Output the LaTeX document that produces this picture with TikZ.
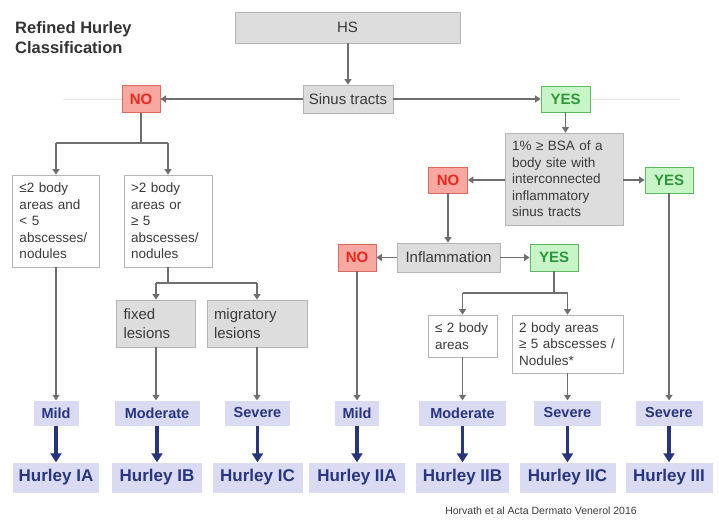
\documentclass[tikz,border=0pt]{standalone}
\usepackage{fontspec}
\setmainfont{Liberation Sans}
\usetikzlibrary{arrows.meta}
\definecolor{grayfill}{HTML}{DDDDDD}
\definecolor{boxedge}{HTML}{B4B4B4}
\definecolor{arrgray}{HTML}{6E6E6E}
\definecolor{txtgray}{HTML}{3A3A3A}
\definecolor{nofill}{HTML}{F7A9A1}
\definecolor{noedge}{HTML}{E0685E}
\definecolor{notext}{HTML}{E8281F}
\definecolor{yesfill}{HTML}{C8F5C8}
\definecolor{yesedge}{HTML}{5DB862}
\definecolor{yestext}{HTML}{2E9638}
\definecolor{lav}{HTML}{DADAF3}
\definecolor{navy}{HTML}{27357F}
\definecolor{faintline}{HTML}{E6E6E6}
\begin{document}
\begin{tikzpicture}[x=1pt,y=-1pt,
  gbox/.style={draw=boxedge, fill=grayfill, line width=0.8pt, inner sep=0pt, text=txtgray, font=\fontsize{15}{18.5}\selectfont},
  wbox/.style={draw=boxedge, fill=white, line width=0.8pt, inner xsep=7pt, inner ysep=0pt, align=left, text=txtgray, font=\fontsize{13.5}{16.5}\selectfont},
  nobox/.style={draw=noedge, fill=nofill, line width=0.8pt, inner sep=0pt, text=notext, font=\bfseries\fontsize{15}{18}\selectfont},
  yesbox/.style={draw=yesedge, fill=yesfill, line width=0.8pt, inner sep=0pt, text=yestext, font=\bfseries\fontsize{15}{18}\selectfont},
  sev/.style={fill=lav, inner sep=0pt, minimum height=25pt, text=navy, font=\bfseries\fontsize{14.5}{17}\selectfont},
  hur/.style={fill=lav, inner sep=0pt, minimum height=30pt, text=navy, font=\bfseries\fontsize{17}{20}\selectfont},
  ln/.style={draw=arrgray, line width=1.2pt},
  arr/.style={draw=arrgray, line width=1.2pt, -{Triangle[length=5.5pt,width=7pt]}},
  thickarr/.style={draw=navy, line width=3.5pt, -{Triangle[length=9pt,width=11pt]}}
]
\useasboundingbox (0,0) rectangle (719,519);
\fill[white] (0,0) rectangle (719,519);

% faint background line
\coordinate (fl) at (63,99);
\coordinate (fr) at (680,99);
\draw[faintline, line width=1pt] (fl) -- (fr);

% title
\node[anchor=north west, inner sep=0pt, align=left, text=black!80, font=\bfseries\fontsize{16.5}{20}\selectfont] (title) at (15,21) {Refined Hurley\\Classification};

% top
\node[gbox, minimum width=225pt, minimum height=31pt] (hs) at (347.5,27.5) {HS};
\node[gbox, minimum width=90pt, minimum height=28pt] (sinus) at (348,99) {Sinus tracts};
\node[nobox, minimum width=38pt, minimum height=27pt] (no1) at (141,99) {NO};
\node[yesbox, minimum width=49pt, minimum height=26pt] (yes1) at (565.5,99) {YES};

\draw[arr] (hs.south -| sinus) -- (sinus.north);
\draw[arr] (sinus.west) -- (no1.east);
\draw[arr] (sinus.east) -- (yes1.west);

% left branch
\node[wbox, minimum width=87pt, minimum height=92pt, text width=73pt] (box1) at (56,221) {≤2 body\\areas and\\< 5\\abscesses/\\nodules};
\node[wbox, minimum width=88pt, minimum height=92pt, text width=74pt] (box2) at (168,221) {>2 body\\areas or\\≥ 5\\abscesses/\\nodules};
\coordinate (b1l) at (56,143);
\coordinate (b1r) at (168,143);
\draw[ln] (no1.south) -- (no1.south |- b1l);
\draw[ln] (b1l) -- (b1r);
\draw[arr] (b1l) -- (box1.north);
\draw[arr] (b1r) -- (box2.north);

\node[gbox, minimum width=79pt, minimum height=47pt, text width=65pt, inner xsep=7pt, align=left] (fixed) at (156,323.5) {fixed\\lesions};
\node[gbox, minimum width=100pt, minimum height=47pt, text width=86pt, inner xsep=7pt, align=left] (migr) at (257,323.5) {migratory\\lesions};
\coordinate (b2l) at (156,283);
\coordinate (b2r) at (257,283);
\draw[ln] (box2.south) -- (box2.south |- b2l);
\draw[ln] (b2l) -- (b2r);
\draw[arr] (b2l) -- (fixed.north);
\draw[arr] (b2r) -- (migr.north);

% right branch
\node[gbox, minimum width=118pt, minimum height=92pt, text width=104pt, inner xsep=7pt, align=left, font=\fontsize{13.5}{16.5}\selectfont] (pct) at (564,179) {1\% ≥ BSA of a\\body site with\\interconnected\\inflammatory\\sinus tracts};
\node[nobox, minimum width=39pt, minimum height=26pt] (no2) at (448,180) {NO};
\node[yesbox, minimum width=48pt, minimum height=26pt] (yes2) at (669,180) {YES};
\draw[arr] (yes1.south) -- (yes1.south |- pct.north);
\draw[arr] (pct.west |- no2) -- (no2.east);
\draw[arr] (pct.east |- yes2) -- (yes2.west);

\node[gbox, minimum width=103pt, minimum height=29pt] (infl) at (448.5,257.5) {Inflammation};
\node[nobox, minimum width=38pt, minimum height=27pt] (no3) at (357,257.5) {NO};
\node[yesbox, minimum width=48pt, minimum height=27pt] (yes3) at (554,257.5) {YES};
\draw[arr] (no2.south) -- (no2.south |- infl.north);
\draw[arr] (infl.west) -- (no3.east);
\draw[arr] (infl.east) -- (yes3.west);

\node[wbox, minimum width=69pt, minimum height=42pt, text width=55pt] (le2) at (462.5,336) {≤ 2 body\\areas};
\node[wbox, minimum width=111pt, minimum height=58pt, text width=97pt] (gt2) at (567.5,344) {2 body areas\\≥ 5 abscesses /\\Nodules*};
\coordinate (b3l) at (462.5,293);
\coordinate (b3r) at (567.5,293);
\draw[ln] (yes3.south) -- (yes3.south |- b3l);
\draw[ln] (b3l) -- (b3r);
\draw[arr] (b3l) -- (le2.north);
\draw[arr] (b3r) -- (gt2.north);

% severity row
\node[sev, minimum width=45pt] (mild1) at (56,413) {Mild};
\node[sev, minimum width=85pt] (mod1) at (157,413) {Moderate};
\node[sev, minimum width=65pt] (sev1) at (257.5,413) {Severe};
\node[sev, minimum width=44pt] (mild2) at (357,413) {Mild};
\node[sev, minimum width=87pt] (mod2) at (462.5,413) {Moderate};
\node[sev, minimum width=67pt] (sev2) at (567.5,413) {Severe};
\node[sev, minimum width=67pt] (sev3) at (669,413) {Severe};

\draw[arr] (box1.south) -- (box1.south |- mild1.north);
\draw[arr] (fixed.south) -- (fixed.south |- mod1.north);
\draw[arr] (migr.south) -- (migr.south |- sev1.north);
\draw[arr] (no3.south) -- (no3.south |- mild2.north);
\draw[arr] (le2.south) -- (le2.south |- mod2.north);
\draw[arr] (gt2.south) -- (gt2.south |- sev2.north);
\draw[arr] (yes2.south) -- (yes2.south |- sev3.north);

% Hurley row
\node[hur, minimum width=86pt] (h1a) at (56,477.5) {Hurley IA};
\node[hur, minimum width=90pt] (h1b) at (157,477.5) {Hurley IB};
\node[hur, minimum width=90pt] (h1c) at (257.5,477.5) {Hurley IC};
\node[hur, minimum width=96pt] (h2a) at (357,477.5) {Hurley IIA};
\node[hur, minimum width=93pt] (h2b) at (462.5,477.5) {Hurley IIB};
\node[hur, minimum width=96pt] (h2c) at (567.5,477.5) {Hurley IIC};
\node[hur, minimum width=87pt] (h3) at (669,477.5) {Hurley III};

\draw[thickarr] (mild1.south) -- (h1a.north);
\draw[thickarr] (mod1.south) -- (h1b.north);
\draw[thickarr] (sev1.south) -- (h1c.north);
\draw[thickarr] (mild2.south) -- (h2a.north);
\draw[thickarr] (mod2.south) -- (h2b.north);
\draw[thickarr] (sev2.south) -- (h2c.north);
\draw[thickarr] (sev3.south) -- (h3.north);

\node[inner sep=0pt, text=txtgray, font=\fontsize{10.5}{12}\selectfont] (cite) at (541,511) {Horvath et al Acta Dermato Venerol 2016};
\end{tikzpicture}
\end{document}
